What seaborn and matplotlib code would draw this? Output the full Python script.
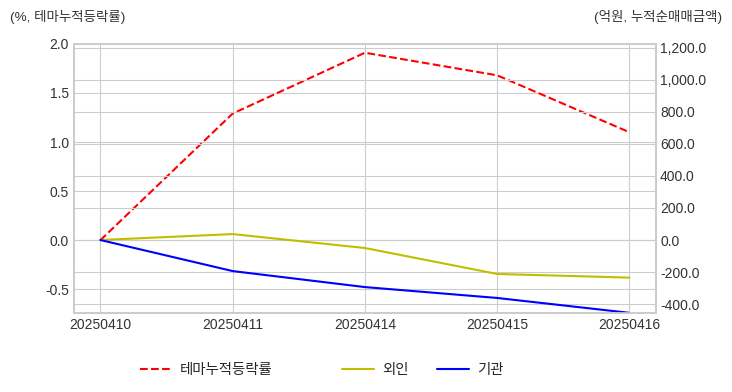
import matplotlib
matplotlib.use("Agg")
import matplotlib.pyplot as plt
import seaborn as sns
import pandas as pd
from matplotlib.ticker import FuncFormatter, MultipleLocator

dates = ["20250410", "20250411", "20250414", "20250415", "20250416"]
theme_ret = [0.0, 1.29, 1.91, 1.68, 1.10]
foreign = [0.0, 37.0, -50.0, -212.0, -235.0]
institution = [0.0, -194.0, -294.0, -362.0, -455.0]

sns.set_style("whitegrid")
plt.rcParams["font.family"] = ["Liberation Sans", "Noto Sans CJK KR", "DejaVu Sans"]
plt.rcParams["axes.unicode_minus"] = False

df = pd.DataFrame({"date": dates, "theme": theme_ret, "foreign": foreign, "inst": institution})

fig = plt.figure(figsize=(7.32, 3.92), dpi=100)
ax = fig.add_axes([0.101, 0.2015, 0.795, 0.6865])
ax2 = ax.twinx()

sns.lineplot(data=df, x="date", y="theme", ax=ax, color="red", linestyle="--", lw=1.5, label="테마누적등락률", legend=False)
sns.lineplot(data=df, x="date", y="foreign", ax=ax2, color="y", lw=1.5, label="외인", legend=False)
sns.lineplot(data=df, x="date", y="inst", ax=ax2, color="blue", lw=1.5, label="기관", legend=False)

ax.set_xlim(-0.2, 4.2)
ax.set_ylim(-0.742, 2.0)
ax2.set_ylim(-456, 1225)
ax.yaxis.set_major_locator(MultipleLocator(0.5))
ax2.yaxis.set_major_locator(MultipleLocator(200))
ax.yaxis.set_major_formatter(FuncFormatter(lambda v, p: f"{v:.1f}"))
ax2.yaxis.set_major_formatter(FuncFormatter(lambda v, p: f"{v:,.1f}"))
ax.set_xlabel("")
ax.set_ylabel("")
ax2.set_ylabel("")
for a in (ax, ax2):
    a.tick_params(labelsize=10, length=0, colors="#333333")
    for s in a.spines.values():
        s.set_color("#cccccc")
        s.set_linewidth(1.25)
ax2.grid(True, color="#cccccc")
ax2.tick_params(axis="y", pad=3)

fig.text(10/732, 1-17/392, "(%, 테마누적등락률)", fontsize=9.7, ha="left", va="center", color="#333333")
fig.text(722/732, 1-17/392, "(억원, 누적순매매금액)", fontsize=9.7, ha="right", va="center", color="#333333")

h1, l1 = ax.get_legend_handles_labels()
h2, l2 = ax2.get_legend_handles_labels()
ly = 1 - 370/392
leg_kw = dict(frameon=False, fontsize=10.4, handlelength=2.2, handletextpad=0.55,
              borderpad=0, borderaxespad=0)
fig.legend(h1, l1, loc="center left", bbox_to_anchor=(140/732, ly), ncol=1, **leg_kw)
fig.legend(h2, l2, loc="center left", bbox_to_anchor=(342/732, ly), ncol=2,
           columnspacing=2.0, **leg_kw)

fig.savefig("out.png", dpi=100)
